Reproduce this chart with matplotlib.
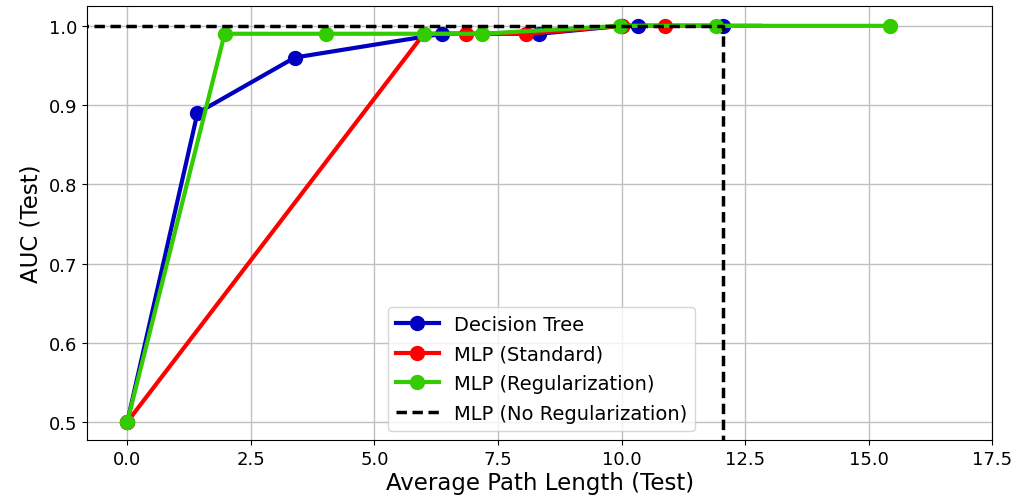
import numpy as np
import matplotlib
matplotlib.use('Agg')
from matplotlib import pyplot as plt

# data
dt_x = [0.0, 1.42, 3.39, 6.37, 8.33, 10.0, 10.33, 12.05]
dt_y = [0.5, 0.89, 0.96, 0.99, 0.99, 1.0, 1.0, 1.0]

std_x = [0.0, 6.0, 6.86, 8.07, 10.0, 10.87, 12.8]
std_y = [0.5, 0.99, 0.99, 0.99, 1.0, 1.0, 1.0]

reg_x = [0.0, 1.97, 4.02, 6.0, 7.18, 9.97, 11.9, 15.42]
reg_y = [0.5, 0.99, 0.99, 0.99, 0.99, 1.0, 1.0, 1.0]

noreg_x = [-1.0, 12.05, 12.05]
noreg_y = [1.0, 1.0, 0.0]

x_ticks = np.arange(0, 17.6, 2.5)
y_ticks = [0.5, 0.6, 0.7, 0.8, 0.9, 1.0]

fig = plt.figure(figsize=(10.2, 5.02), dpi=100)
ax = fig.add_axes([0.085, 0.121, 0.888, 0.865])

ax.plot(dt_x, dt_y, color='#0000c0', lw=3, marker='o', ms=10, label='Decision Tree')
ax.plot(std_x, std_y, color='red', lw=3, marker='o', ms=10,
        markevery=list(range(len(std_x) - 1)), label='MLP (Standard)')
ax.plot(reg_x, reg_y, color='#33cc00', lw=3, marker='o', ms=10, label='MLP (Regularization)')
ax.plot(noreg_x, noreg_y, color='black', lw=2.5, ls='--', dashes=(3, 1.6),
        label='MLP (No Regularization)')

ax.set_xlim(-0.82, 17.5)
ax.set_ylim(0.477, 1.025)
ax.set_xticks(x_ticks)
ax.set_yticks(y_ticks)
ax.tick_params(labelsize=13)
ax.grid(True, color='#c0c0c0', lw=1)
ax.set_axisbelow(True)
ax.set_xlabel('Average Path Length (Test)', fontsize=16.5, labelpad=2)
ax.set_ylabel('AUC (Test)', fontsize=16.5)
ax.legend(loc='lower left', fontsize=14, bbox_to_anchor=(0.322, 0.0),
          handlelength=2.2, labelspacing=0.55)

fig.savefig('out.png')
